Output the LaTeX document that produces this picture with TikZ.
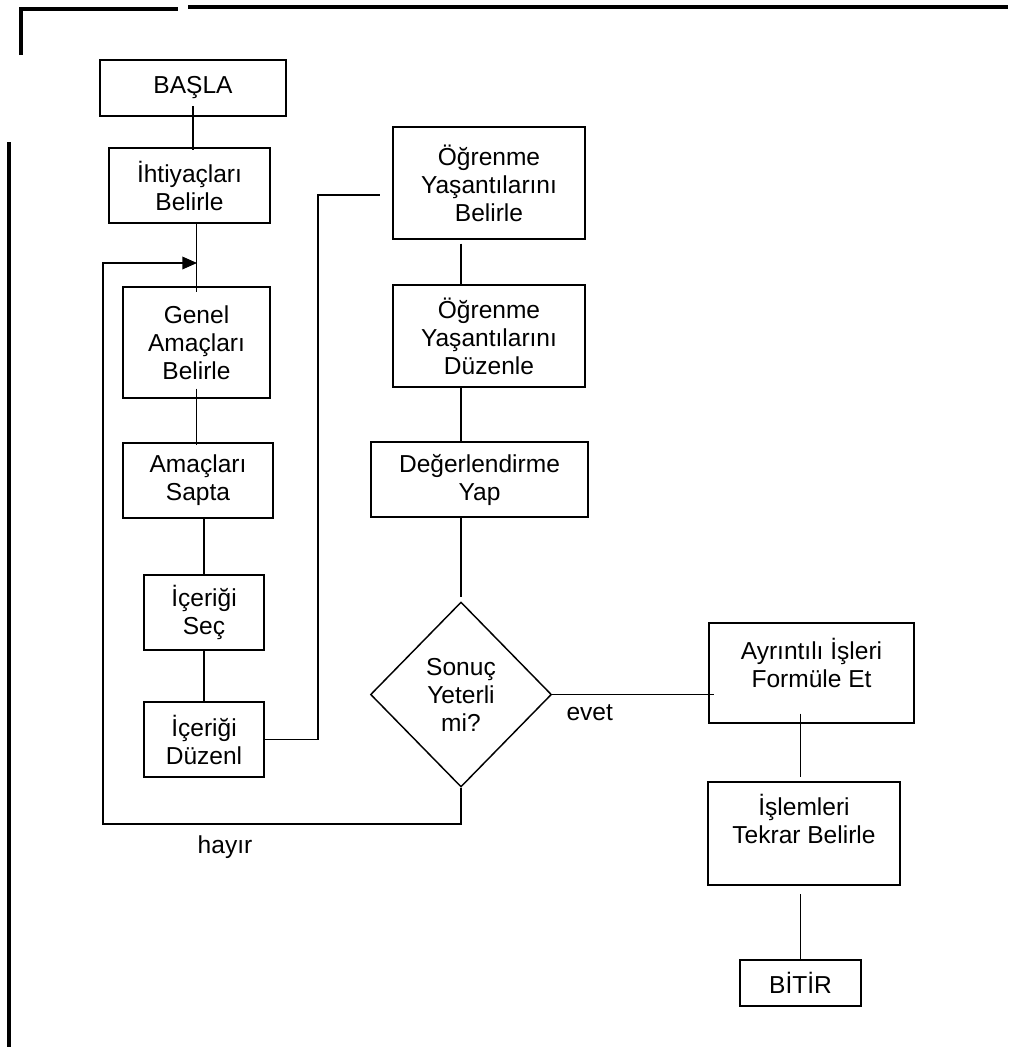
\documentclass[tikz,border=0pt]{standalone}
\usepackage{fontspec}
\setmainfont{Liberation Sans}
\usetikzlibrary{shapes.geometric,arrows.meta}

\begin{document}
\begin{tikzpicture}[x=0.75pt,y=-0.75pt,
    font=\fontsize{18.4}{21}\selectfont,
    kutu/.style={draw, line width=1.1pt, align=center, inner sep=2pt},
    kararkutu/.style={draw, diamond, aspect=1, line width=1.1pt, align=center, inner sep=0pt},
    hat/.style={line width=1pt},
    cerceve/.style={line width=2.3pt}]
    \useasboundingbox (0,0) rectangle (1008,1047);
    % Cerceve cizgileri
    \draw[cerceve] (21,55) -- (21,9) -- (178,9);
    \draw[cerceve] (188,7) -- (1008,7);
    \draw[cerceve] (9,142) -- (9,1047);
    % Sol sutun
    \node[kutu, minimum width=139.5pt, minimum height=42pt] (basla) at (193,88) {BAŞLA};
    \node[kutu, minimum width=120.75pt, minimum height=56.25pt] (ihtiyac) at (189.5,185.5) {İhtiyaçları\\Belirle};
    \node[kutu, minimum width=110.25pt, minimum height=83.25pt] (genel) at (196.5,342.5) {Genel\\Amaçları\\Belirle};
    \node[kutu, minimum width=112.5pt, minimum height=56.25pt] (amac) at (198,480.5) {Amaçları\\Sapta};
    \node[kutu, minimum width=90pt, minimum height=56.25pt] (icsec) at (204,612.5) {İçeriği\\Seç};
    \node[kutu, minimum width=90pt, minimum height=56.25pt] (icduz) at (204,739.5) {İçeriği\\Düzenl};
    % Orta sutun
    \node[kutu, minimum width=144pt, minimum height=84pt] (ogbel) at (489,183) {Öğrenme\\Yaşantılarını\\Belirle};
    \node[kutu, minimum width=144pt, minimum height=76.5pt] (ogduz) at (489,336) {Öğrenme\\Yaşantılarını\\Düzenle};
    \node[kutu, minimum width=162.75pt, minimum height=56.25pt] (deger) at (479.5,479.5) {Değerlendirme\\Yap};
    \node[kararkutu, minimum width=135.75pt, minimum height=138.75pt] (sonuc) at (461,694.5) {Sonuç\\Yeterli\\mi?};
    % Sag sutun
    \node[kutu, minimum width=153.75pt, minimum height=75pt] (ayrin) at (811.5,673) {Ayrıntılı İşleri\\Formüle Et\\[-6pt]\mbox{}};
    \node[kutu, minimum width=144pt, minimum height=77.25pt] (isle) at (804,833.5) {İşlemleri\\Tekrar Belirle\\[1pt]\mbox{}};
    \node[kutu, minimum width=90.75pt, minimum height=34.5pt] (bitir) at (800.5,983) {BİTİR};
    % Baglantilar
    \coordinate (ogbelgir) at (380,195);
    \coordinate (kivrim) at (318,195);
    \coordinate (donus) at (103,824);
    \coordinate (giris) at (197,263);
    \draw[hat, shorten <=-8pt, shorten >=-2pt] (basla.south) -- (basla.south |- ihtiyac.north);
    \draw[hat, shorten >=-4.5pt] (genel.north |- ihtiyac.south) -- (genel.north);
    \draw[hat, shorten <=-7.5pt, shorten >=-2pt] (genel.south) -- (genel.south |- amac.north);
    \draw[hat] (icsec.north |- amac.south) -- (icsec.north);
    \draw[hat] (icsec.south) -- (icduz.north);
    \draw[hat] (icduz.east) -| (kivrim) -- (ogbelgir);
    \draw[hat, shorten <=3pt] (sonuc.north |- ogbel.south) -- (sonuc.north |- ogduz.north);
    \draw[hat] (sonuc.north |- ogduz.south) -- (sonuc.north |- deger.north);
    \draw[hat, shorten >=3pt] (sonuc.north |- deger.south) -- (sonuc.north);
    \draw[hat, shorten >=-4.5pt] (sonuc.east) -- (sonuc.east -| ayrin.west) node[pos=0.24, below=4pt] (evet) {evet};
    \draw[hat, shorten <=-7.5pt, shorten >=3pt] (bitir.north |- ayrin.south) -- (bitir.north |- isle.north);
    \draw[hat, shorten <=6.5pt] (bitir.north |- isle.south) -- (bitir.north);
    % Geri donus
    \draw[hat, -{Triangle[length=11pt,width=9.5pt]}] (sonuc.south) |- (donus) |- (giris);
    \node (hayir) at (225,847) {hayır};
\end{tikzpicture}
\end{document}
